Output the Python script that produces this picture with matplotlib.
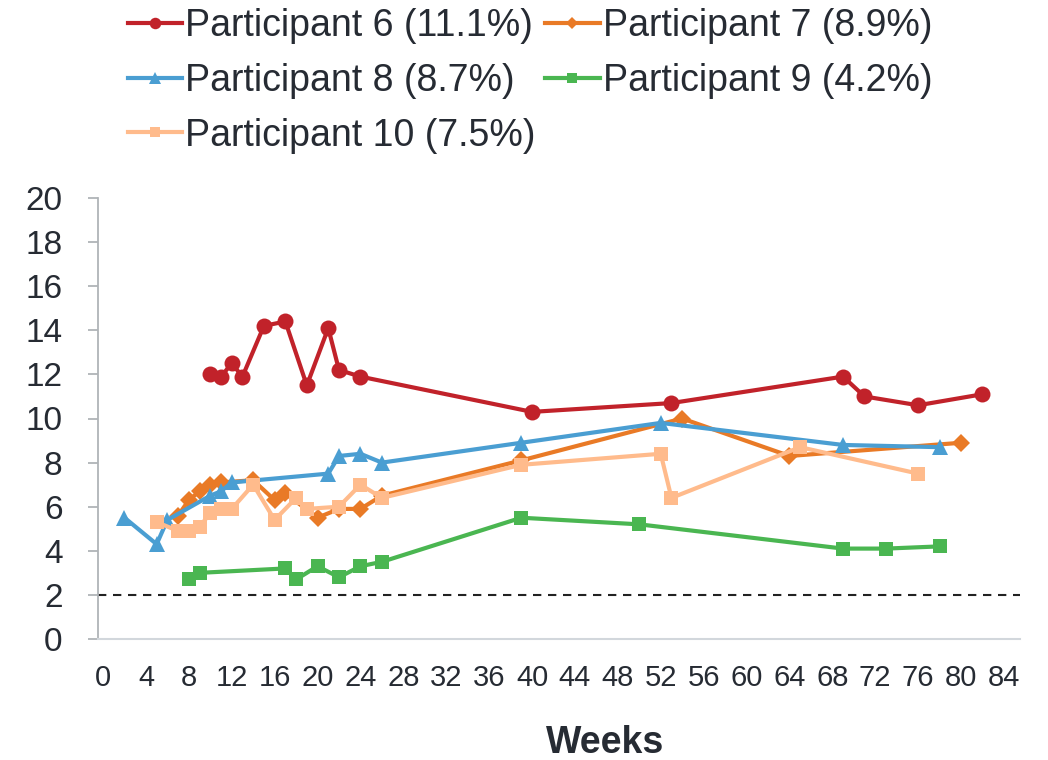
import matplotlib
matplotlib.use("Agg")
import matplotlib.pyplot as plt

plt.rcParams['font.family'] = ['Liberation Sans', 'DejaVu Sans']

# Data (weeks, values)
p6_weeks = [10, 11, 12, 13, 15, 17, 19, 21, 22, 24, 40, 53, 69, 71, 76, 82]
p6_vals = [12.0, 11.9, 12.5, 11.9, 14.2, 14.4, 11.5, 14.1, 12.2, 11.9, 10.3, 10.7, 11.9, 11.0, 10.6, 11.1]

p7_weeks = [7, 8, 9, 10, 11, 14, 16, 17, 20, 22, 24, 26, 39, 54, 64, 80]
p7_vals = [5.6, 6.3, 6.7, 7.0, 7.1, 7.2, 6.3, 6.6, 5.5, 5.9, 5.9, 6.5, 8.1, 10.0, 8.3, 8.9]

p8_weeks = [2, 5, 6, 10, 11, 12, 21, 22, 24, 26, 39, 52, 69, 78]
p8_vals = [5.5, 4.3, 5.4, 6.5, 6.7, 7.1, 7.5, 8.3, 8.4, 8.0, 8.9, 9.8, 8.8, 8.7]

p9_weeks = [8, 9, 17, 18, 20, 22, 24, 26, 39, 50, 69, 73, 78]
p9_vals = [2.7, 3.0, 3.2, 2.7, 3.3, 2.8, 3.3, 3.5, 5.5, 5.2, 4.1, 4.1, 4.2]

p10_weeks = [5, 7, 8, 9, 10, 11, 12, 14, 16, 18, 19, 22, 24, 26, 39, 52, 53, 65, 76]
p10_vals = [5.3, 4.9, 4.9, 5.1, 5.7, 5.9, 5.9, 7.0, 5.4, 6.4, 5.9, 6.0, 7.0, 6.4, 7.9, 8.4, 6.4, 8.7, 7.5]

labels = ["Participant 6 (11.1%)", "Participant 7 (8.9%)", "Participant 8 (8.7%)",
          "Participant 9 (4.2%)", "Participant 10 (7.5%)"]
threshold = 2
x_ticks = list(range(0, 85, 4))
y_ticks = list(range(0, 21, 2))

colors = ['#C1222A', '#E97A26', '#4A9ED2', '#4AB651', '#FFBB8C']
markers = ['o', 'D', '^', 's', 's']
msizes = [11.5, 9, 11.5, 9.5, 10.5]

W, H = 1048, 760
fig = plt.figure(figsize=(W / 100, H / 100), dpi=100)
ax = fig.add_axes([98 / W, 1 - 639 / H, (1020 - 98) / W, (639 - 198) / H])

series = [(p6_weeks, p6_vals), (p7_weeks, p7_vals), (p8_weeks, p8_vals),
          (p9_weeks, p9_vals), (p10_weeks, p10_vals)]
handles = []
for (xs, ys), c, m, ms, lab in zip(series, colors, markers, msizes, labels):
    h, = ax.plot(xs, ys, color=c, marker=m, markersize=ms, linewidth=3,
                 markeredgewidth=0, label=lab, solid_joinstyle='round')
    handles.append(h)

ax.axhline(threshold, color='#222222', linewidth=1.5, linestyle=(0, (4, 3.2)), zorder=1)

ax.set_xlim(-0.47, 85.5)
ax.set_ylim(0, 20)
ax.set_xticks(x_ticks)
ax.set_yticks(y_ticks)
text_color = '#262B33'
ax.tick_params(axis='x', length=0, pad=18, labelsize=21, labelcolor=text_color)
ax.tick_params(axis='y', length=7.5, width=1.3, color='#B0B4B8', pad=18,
               labelsize=24, labelcolor=text_color, direction='out')
for s in ['top', 'right']:
    ax.spines[s].set_visible(False)
ax.spines['left'].set_color('#B0B4B8')
ax.spines['left'].set_linewidth(1.3)
ax.spines['bottom'].set_color('#D2D7DC')
ax.spines['bottom'].set_linewidth(1.5)

fig.text(605 / W, 1 - 743 / H, 'Weeks', fontsize=27, fontweight='bold',
         color=text_color, ha='center', va='center')

# legend fills row by row in the reference: reorder for column-major filling
order = [0, 2, 4, 1, 3]
leg = fig.legend(handles=[handles[i] for i in order], labels=[labels[i] for i in order],
                 ncol=2, loc='upper left',
                 bbox_to_anchor=(128 / W, 1 - 8 / H), frameon=False,
                 fontsize=27, labelcolor=text_color, handlelength=1.45,
                 handletextpad=0.08, columnspacing=0.25, labelspacing=0.5,
                 markerscale=0.72, borderaxespad=0, borderpad=0)

fig.savefig('out.png', dpi=100)
